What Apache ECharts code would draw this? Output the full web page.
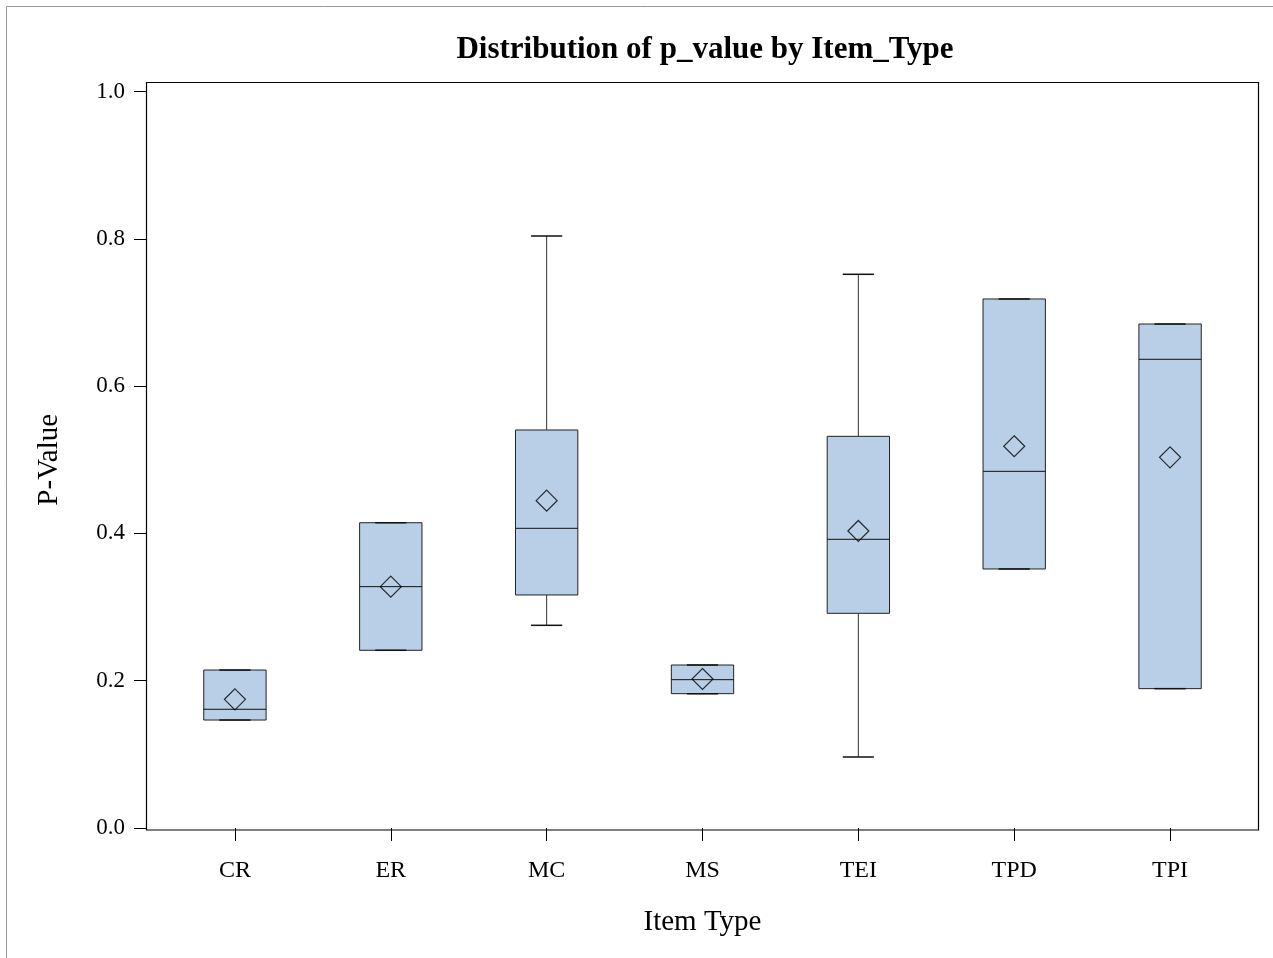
<!DOCTYPE html>
<html>
<head>
<meta charset="utf-8">
<script src="https://cdn.jsdelivr.net/npm/echarts@6/dist/echarts.min.js"></script>
<style>
html,body{margin:0;padding:0;background:#fff;}
#chart{width:1273px;height:958px;}
</style>
</head>
<body>
<div id="chart"></div>
<script>
// Data
var categories = ['CR', 'ER', 'MC', 'MS', 'TEI', 'TPD', 'TPI'];
var whiskerMin = [0.1466, 0.2413, 0.2752, 0.1824, 0.0964, 0.3517, 0.1892];
var q1Values   = [0.1466, 0.2413, 0.3164, 0.1824, 0.2915, 0.3517, 0.1892];
var medians    = [0.1612, 0.3277, 0.4069, 0.2014, 0.3920, 0.4843, 0.6364];
var q3Values   = [0.2145, 0.4145, 0.5404, 0.2213, 0.5318, 0.7183, 0.6843];
var whiskerMax = [0.2145, 0.4145, 0.8038, 0.2213, 0.7518, 0.7183, 0.6843];
var means      = [0.1747, 0.3277, 0.4444, 0.2023, 0.4033, 0.5183, 0.5033];
var yTicks = [0, 0.2, 0.4, 0.6, 0.8, 1.0];

var serif = '"Liberation Serif", "Times New Roman", serif';

var boxData = categories.map(function (c, i) {
  return [i, whiskerMin[i], q1Values[i], medians[i], q3Values[i], whiskerMax[i]];
});
var meanData = categories.map(function (c, i) { return [i, means[i]]; });

function renderBox(params, api) {
  var idx = api.value(0);
  var band = api.size([1, 0])[0];
  var bw = band * 0.4;
  var cw = bw * 0.5;
  var pMin = api.coord([idx, api.value(1)]);
  var pQ1 = api.coord([idx, api.value(2)]);
  var pMed = api.coord([idx, api.value(3)]);
  var pQ3 = api.coord([idx, api.value(4)]);
  var pMax = api.coord([idx, api.value(5)]);
  var cx = pMed[0];
  var lineStyle = { stroke: '#333', lineWidth: 1, fill: null };
  var children = [];
  children.push({ type: 'line', shape: { x1: cx, y1: pQ3[1], x2: cx, y2: pMax[1] }, style: lineStyle });
  children.push({ type: 'line', shape: { x1: cx, y1: pQ1[1], x2: cx, y2: pMin[1] }, style: lineStyle });
  children.push({ type: 'rect', shape: { x: cx - bw / 2, y: pQ3[1], width: bw, height: pQ1[1] - pQ3[1] },
    style: { fill: '#B9CFE7', stroke: '#222', lineWidth: 1 } });
  children.push({ type: 'line', shape: { x1: cx - cw / 2, y1: pMax[1], x2: cx + cw / 2, y2: pMax[1] }, style: { stroke: '#111', lineWidth: 1.5 } });
  children.push({ type: 'line', shape: { x1: cx - cw / 2, y1: pMin[1], x2: cx + cw / 2, y2: pMin[1] }, style: { stroke: '#111', lineWidth: 1.5 } });
  children.push({ type: 'line', shape: { x1: cx - bw / 2, y1: pMed[1], x2: cx + bw / 2, y2: pMed[1] }, style: { stroke: '#111', lineWidth: 1 } });
  return { type: 'group', children: children };
}

var chart = echarts.init(document.getElementById('chart'), null, { renderer: 'canvas' });
chart.setOption({
  backgroundColor: '#fff',
  animation: false,
  title: {
    text: 'Distribution of p_value by Item_Type',
    left: 700, top: 29, textAlign: 'center',
    textStyle: { fontFamily: serif, fontWeight: 'bold', fontSize: 31, color: '#000' }
  },
  graphic: [
    { type: 'rect', shape: { x: 6.5, y: 6.5, width: 1400, height: 1100 }, style: { fill: null, stroke: '#999', lineWidth: 1 }, silent: true },
    { type: 'rect', shape: { x: 146.5, y: 82.5, width: 1112, height: 747.5 }, style: { fill: null, stroke: '#000', lineWidth: 1.2 }, silent: true, z: 100 }
  ],
  grid: { left: 157, right: 25, top: 91.5, bottom: 130 },
  xAxis: {
    type: 'category',
    data: categories,
    boundaryGap: true,
    offset: 2,
    axisLine: { show: false },
    axisTick: { show: true, length: 13, alignWithLabel: true, lineStyle: { color: '#000' } },
    axisLabel: { margin: 29, fontFamily: serif, fontSize: 24, color: '#000' },
    splitLine: { show: false },
    name: 'Item Type',
    nameLocation: 'middle',
    nameGap: 78,
    nameTextStyle: { fontFamily: serif, fontSize: 29, color: '#000' }
  },
  yAxis: {
    type: 'value',
    min: yTicks[0], max: yTicks[yTicks.length - 1], interval: 0.2,
    offset: 11,
    axisLine: { show: false },
    axisTick: { show: true, length: 12, lineStyle: { color: '#000' } },
    axisLabel: { margin: 21, fontFamily: serif, fontSize: 23, color: '#000', formatter: function (v) { return v.toFixed(1); } },
    splitLine: { show: false },
    name: 'P-Value',
    nameLocation: 'middle',
    nameRotate: 90,
    nameGap: 82,
    nameTextStyle: { fontFamily: serif, fontSize: 29, color: '#000' }
  },
  series: [
    {
      type: 'custom',
      renderItem: renderBox,
      data: boxData,
      encode: { x: 0, y: [1, 2, 3, 4, 5] },
      z: 2
    },
    {
      type: 'scatter',
      data: meanData,
      symbol: 'diamond',
      symbolSize: [21, 21],
      itemStyle: { color: 'rgba(0,0,0,0)', borderColor: '#000', borderWidth: 1.2 },
      z: 5
    }
  ]
});
</script>
</body>
</html>
